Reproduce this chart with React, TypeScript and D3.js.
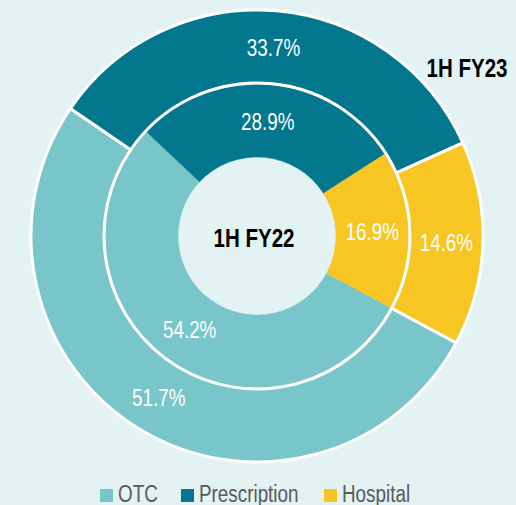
import React from "react";
import * as d3 from "d3";

const categories = ["OTC", "Prescription", "Hospital"];
const fy23Values = [51.7, 33.7, 14.6];
const fy22Values = [54.2, 28.9, 16.9];
const colors = ["#78c6c9", "#02778e", "#f8c623"];
const outerTitle = "1H FY23";
const innerTitle = "1H FY22";

const W = 516;
const H = 505;
const cx = 257;
const cy = 236;
const startDeg = 118.2;
const FONT = "'Liberation Sans', Arial, sans-serif";
const SX = 0.82;

function NText(props: {
  x: number;
  y: number;
  size: number;
  fill: string;
  anchor?: string;
  bold?: boolean;
  dy?: string;
  children: React.ReactNode;
}) {
  return (
    <text
      transform={`translate(${props.x},${props.y}) scale(${SX},1)`}
      dy={props.dy}
      textAnchor={props.anchor || "start"}
      fill={props.fill}
      fontSize={props.size}
      fontWeight={props.bold ? "bold" : "normal"}
      fontFamily={FONT}
    >
      {props.children}
    </text>
  );
}

export default function App() {
  const start = (startDeg * Math.PI) / 180;
  const pie = d3
    .pie<number>()
    .sort(null)
    .value((d) => d)
    .startAngle(start)
    .endAngle(start + 2 * Math.PI);

  const outerArcs = pie(fy23Values);
  const innerArcs = pie(fy22Values);

  const outerArc = d3.arc<d3.PieArcDatum<number>>().innerRadius(153).outerRadius(226);
  const innerArc = d3.arc<d3.PieArcDatum<number>>().innerRadius(79).outerRadius(151.5);

  const legendX = [100, 181, 324];

  return (
    <svg
      width={W}
      height={H}
      style={{ position: "absolute", left: 0, top: 0, background: "#e3f2f2" }}
    >
      <rect width={W} height={H} fill="#e3f2f2" />
      <g transform={`translate(${cx},${cy})`}>
        {innerArcs.map((a, i) => (
          <path key={"i" + i} d={innerArc(a) || ""} fill={colors[i]} stroke={colors[i]} strokeWidth={0.5} />
        ))}
        {outerArcs.map((a, i) => (
          <path key={"o" + i} d={outerArc(a) || ""} fill={colors[i]} stroke="#ffffff" strokeWidth={3} strokeLinejoin="miter" />
        ))}
        {outerArcs.map((a, i) => {
          const [x, y] = outerArc.centroid(a);
          return (
            <NText key={"ol" + i} x={x} y={y} dy="0.36em" anchor="middle" fill="#ffffff" size={23}>
              {a.data.toFixed(1)}%
            </NText>
          );
        })}
        {innerArcs.map((a, i) => {
          const [x, y] = innerArc.centroid(a);
          return (
            <NText key={"il" + i} x={x} y={y} dy="0.36em" anchor="middle" fill="#ffffff" size={23}>
              {a.data.toFixed(1)}%
            </NText>
          );
        })}
        <NText x={-3} y={11} anchor="middle" bold size={25} fill="#000">
          {innerTitle}
        </NText>
      </g>
      <NText x={467} y={77} anchor="middle" bold size={25} fill="#000">
        {outerTitle}
      </NText>
      {categories.map((c, i) => (
        <g key={c}>
          <rect x={legendX[i]} y={489} width={13} height={13} fill={colors[i]} />
          <NText x={legendX[i] + 18} y={502} size={23} fill="#595959">
            {c}
          </NText>
        </g>
      ))}
    </svg>
  );
}
